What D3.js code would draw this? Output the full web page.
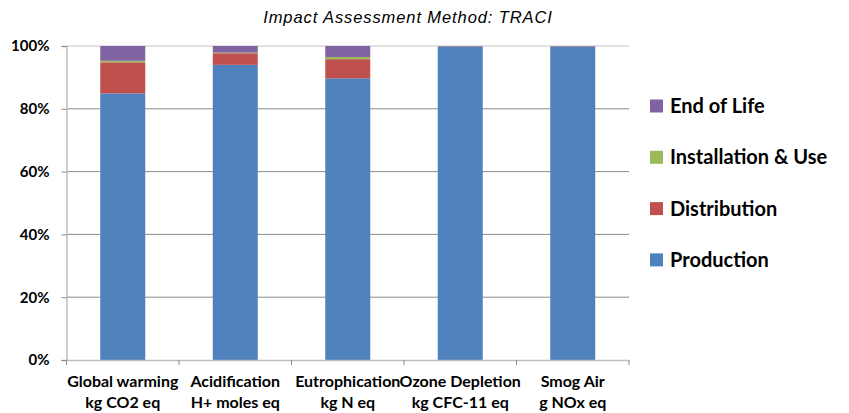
<!DOCTYPE html>
<html>
<head>
<meta charset="utf-8">
<script src="https://cdn.jsdelivr.net/npm/d3@7"></script>
<style>
  body { margin: 0; background: #fff; }
  svg { display: block; }
</style>
</head>
<body>
<div id="chart"></div>
<script>
/* DATA */
const categories = ["Global warming|kg CO2 eq", "Acidification|H+ moles eq", "Eutrophication|kg N eq", "Ozone Depletion|kg CFC-11 eq", "Smog Air|g NOx eq"];
const seriesNames = ["Production", "Distribution", "Installation & Use", "End of Life"];
const production = [84.9, 94.0, 89.7, 99.8, 99.8];
const distribution = [9.9, 3.7, 6.1, 0.1, 0.1];
const installation = [0.5, 0.2, 0.7, 0.02, 0.02];
const endOfLife = [4.7, 2.1, 3.5, 0.08, 0.08];
const yTicks = [0, 0.2, 0.4, 0.6, 0.8, 1];
const colors = ["#4F81BD", "#C0504D", "#9BBB59", "#8064A2"];

const width = 849, height = 413,
  margin = { top: 46, left: 66.5, right: 220, bottom: 53 };

// table for d3.stack
const table = categories.map((c, i) => ({
  cat: c,
  "Production": production[i],
  "Distribution": distribution[i],
  "Installation & Use": installation[i],
  "End of Life": endOfLife[i]
}));

const stacked = d3.stack()
  .keys(seriesNames)
  .offset(d3.stackOffsetExpand)(table);

const svg = d3.select("#chart").append("svg")
  .attr("width", width)
  .attr("height", height);

const xScale = d3.scaleBand()
  .domain(categories)
  .range([margin.left, 629])
  .paddingInner(0.6)
  .paddingOuter(0.3);

const yScale = d3.scaleLinear()
  .domain([0, 1])
  .range([360, margin.top]);

// gridlines
svg.append("g")
  .selectAll("line")
  .data(yTicks.filter(t => t > 0))
  .join("line")
  .attr("x1", margin.left)
  .attr("x2", 629)
  .attr("y1", d => yScale(d))
  .attr("y2", d => yScale(d))
  .attr("stroke", d => d === 1 ? "#c4c4c4" : "#8a8a8a")
  .attr("stroke-width", 1);

// y axis
const yAxis = svg.append("g")
  .attr("transform", `translate(${margin.left},0)`)
  .call(d3.axisLeft(yScale).tickValues(yTicks).tickFormat(d3.format(".0%")).tickSize(5).tickPadding(12));
yAxis.select(".domain").attr("stroke", "#bfbfbf").attr("stroke-width", 1.5);
yAxis.selectAll(".tick line").attr("stroke", "#8a8a8a");
yAxis.selectAll("text")
  .attr("font-family", "Lato, 'Open Sans', sans-serif")
  .attr("font-weight", "bold")
  .attr("font-size", 15)
  .attr("fill", "#000");

// bars
svg.append("g")
  .selectAll("g")
  .data(stacked)
  .join("g")
  .attr("fill", (d, i) => colors[i])
  .selectAll("rect")
  .data(d => d)
  .join("rect")
  .attr("x", d => xScale(d.data.cat))
  .attr("width", xScale.bandwidth())
  .attr("y", d => yScale(d[1]))
  .attr("height", d => yScale(d[0]) - yScale(d[1]));

// x axis
const xAxis = svg.append("g")
  .attr("transform", `translate(0,${yScale(0)})`)
  .call(d3.axisBottom(xScale).tickSize(0).tickFormat(""));
xAxis.select(".domain").attr("stroke", "#bfbfbf").attr("stroke-width", 1.5);

// category boundary ticks
const step = xScale.step();
svg.append("g")
  .selectAll("line")
  .data(d3.range(categories.length + 1))
  .join("line")
  .attr("x1", i => margin.left + i * step)
  .attr("x2", i => margin.left + i * step)
  .attr("y1", yScale(0))
  .attr("y2", yScale(0) + 5)
  .attr("stroke", "#8a8a8a");

// category labels (two lines)
const labels = svg.append("g")
  .selectAll("text")
  .data(categories)
  .join("text")
  .attr("x", d => xScale(d) + xScale.bandwidth() / 2)
  .attr("text-anchor", "middle")
  .attr("font-family", "Lato, 'Open Sans', sans-serif")
  .attr("font-weight", "bold")
  .attr("font-size", 16)
  .attr("fill", "#000");
labels.append("tspan")
  .attr("x", d => xScale(d) + xScale.bandwidth() / 2)
  .attr("y", 387)
  .text(d => d.split("|")[0]);
labels.append("tspan")
  .attr("x", d => xScale(d) + xScale.bandwidth() / 2)
  .attr("y", 408)
  .text(d => d.split("|")[1]);

// title
svg.append("text")
  .attr("x", 408)
  .attr("y", 23)
  .attr("text-anchor", "middle")
  .attr("font-family", "'Liberation Sans', Arial, sans-serif")
  .attr("font-style", "italic")
  .attr("font-size", 16.5)
  .attr("letter-spacing", 0.9)
  .attr("fill", "#000")
  .text("Impact Assessment Method: TRACI");

// legend (reverse order, top = End of Life)
const legendOrder = seriesNames.map((s, i) => ({ name: s, color: colors[i] })).reverse();
const legend = svg.append("g")
  .selectAll("g")
  .data(legendOrder)
  .join("g")
  .attr("transform", (d, i) => `translate(650,${106 + i * 51.3})`);
legend.append("rect")
  .attr("x", 0)
  .attr("y", -6.5)
  .attr("width", 13)
  .attr("height", 13)
  .attr("fill", d => d.color);
legend.append("text")
  .attr("x", 20)
  .attr("y", 7)
  .attr("font-family", "Lato, 'Open Sans', sans-serif")
  .attr("font-weight", "bold")
  .attr("font-size", 20)
  .attr("fill", "#000")
  .text(d => d.name);
</script>
</body>
</html>
